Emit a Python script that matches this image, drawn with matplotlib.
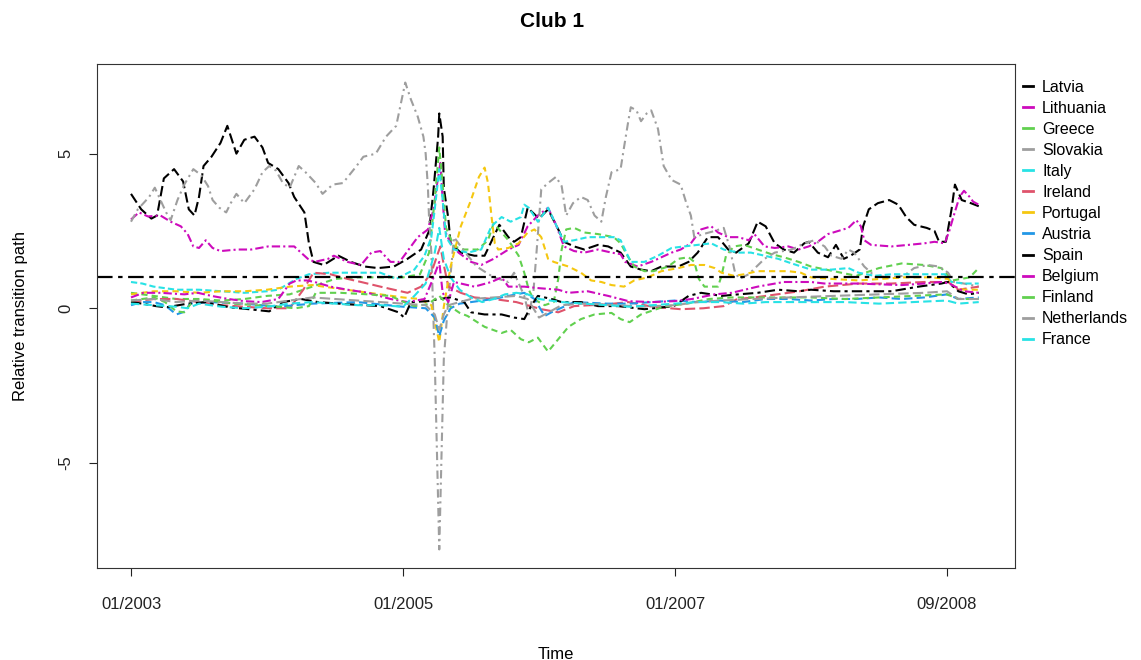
import matplotlib
matplotlib.use("Agg")
import matplotlib.pyplot as plt
from matplotlib.lines import Line2D

plt.rcParams['font.family'] = ['Liberation Sans', 'DejaVu Sans']

# x = months since 01/2003 ; y = relative transition path
tick_pos = [0, 24, 48, 72]
tick_labels = ["01/2003", "01/2005", "01/2007", "09/2008"]
y_ticks = [-5, 0, 5]
threshold = 1.0

latvia = [(0,3.7),(0.9,3.2),(1.8,2.9),(2.3,3.0),(2.9,4.2),(3.8,4.5),(4.6,4.1),(5.1,3.2),(5.6,3.0),(6.0,3.6),(6.4,4.6),(7.1,4.9),(7.9,5.35),(8.5,5.9),(9.3,5.0),(10,5.45),(10.9,5.55),(11.6,5.2),(12.1,4.7),(13,4.5),(13.9,4.05),(14.4,3.6),(15.3,3.1),(15.7,2.1),(16.1,1.5),(17,1.4),(18.3,1.7),(19.4,1.5),(20.6,1.35),(21.8,1.3),(23.2,1.35),(24.4,1.6),(25.6,1.9),(26.3,2.5),(26.7,3.85),(27.1,5.55),(27.2,6.3),(27.5,5.55),(27.6,3.9),(28,2.9),(28.2,2.1),(29.1,1.8),(30.3,1.7),(31.2,1.7),(32.5,2.7),(33.3,2.3),(33.8,2.15),(34.4,2.3),(35,3.25),(36,2.9),(36.8,3.2),(37.7,2.55),(38.2,2.15),(39.1,2.0),(40,1.9),(41.2,2.05),(42.1,2.0),(43.2,1.8),(44.1,1.35),(45,1.25),(45.9,1.2),(46.8,1.35),(48.3,1.35),(49.2,1.5),(50,1.8),(50.9,2.3),(51.8,2.3),(52.7,1.9),(53.4,1.8),(54.5,2.1),(55.3,2.8),(56,2.65),(56.8,2.1),(57.6,1.9),(58.5,1.8),(59.4,2.1),(59.8,2.15),(60.6,1.8),(61.5,1.65),(62.2,2.05),(62.9,1.6),(63.5,1.7),(64.3,1.9),(64.6,2.65),(65.1,3.2),(65.9,3.4),(66.9,3.5),(67.7,3.35),(68.4,2.95),(69.1,2.7),(70.2,2.6),(70.9,2.5),(71.3,2.15),(71.9,2.15),(72.4,3.2),(72.7,4.0),(73.3,3.5),(74.1,3.4),(74.8,3.3)]

lithuania = [(0,2.87),(0.7,3.1),(1.5,2.97),(2.6,3.0),(3.5,2.8),(4.4,2.65),(5,2.4),(5.5,2.0),(6,1.95),(6.6,2.2),(7.2,1.95),(7.9,1.85),(9.4,1.9),(10.6,1.9),(12.1,2.0),(13.2,2.0),(14.4,2.0),(15,1.8),(15.6,1.6),(16.2,1.5),(17.4,1.6),(17.9,1.7),(19.1,1.5),(20.3,1.4),(21.2,1.8),(22,1.85),(22.9,1.5),(23.7,1.5),(24.4,1.85),(25.3,2.3),(26.2,2.55),(26.7,3.2),(27.0,4.0),(27.3,4.7),(27.5,3.5),(27.7,2.5),(28.2,2.1),(28.9,1.8),(30,1.5),(30.9,1.4),(32,1.6),(33.3,1.9),(34.2,2.05),(35,2.65),(35.9,3.0),(36.8,3.25),(37.5,2.7),(38.2,2.0),(39.1,1.85),(40,1.8),(41.2,1.9),(42.4,1.8),(43.2,1.75),(43.6,1.5),(44.7,1.35),(45.9,1.5),(46.8,1.65),(47.7,1.8),(48.5,1.9),(49.4,2.1),(50.3,2.55),(51.2,2.65),(51.8,2.45),(52.7,2.3),(53.6,2.3),(54.5,2.2),(55,2.4),(55.9,2.0),(56.8,1.95),(58,2.0),(58.9,1.9),(59.8,2.0),(60.6,2.15),(61.5,2.4),(62.4,2.5),(63.3,2.6),(64,2.85),(64.4,2.65),(64.7,2.2),(65.3,2.05),(67.1,2.0),(68.6,2.05),(70,2.1),(70.9,2.15),(71.8,2.1),(72.2,2.5),(72.6,3.0),(73.1,3.6),(73.5,3.8),(74,3.6),(74.3,3.45),(74.8,3.35)]

greece = [(0,0.5),(2,0.4),(4,0.3),(6,0.3),(8,0.25),(10,0.3),(12,0.4),(14,0.45),(16,0.7),(18,0.95),(20,1.0),(22,1.0),(24,1.0),(25.5,1.1),(26.3,1.8),(26.8,3.5),(27.2,5.2),(27.5,4.0),(27.8,2.6),(28.5,2.0),(29.4,1.9),(30.6,1.9),(31.5,2.2),(32,2.75),(33.3,2.2),(34.2,1.7),(34.7,1.15),(35.1,0.6),(35.5,0.3),(36.5,0.1),(37.3,0.2),(37.7,0.95),(38,1.9),(38.4,2.55),(39.1,2.6),(40,2.45),(41.2,2.4),(42.6,2.3),(43.2,2.1),(43.8,1.7),(44.4,1.35),(45.3,1.2),(46.1,1.2),(47.4,1.35),(48.3,1.6),(49.2,1.65),(49.7,1.5),(50.1,0.95),(50.6,0.7),(51.8,0.7),(52.1,1.05),(52.5,1.7),(53.2,2.0),(54.1,2.05),(55.3,1.9),(56.5,1.75),(57.6,1.65),(58.9,1.5),(60,1.35),(62,1.2),(64,1.05),(66,1.3),(68,1.45),(70,1.4),(71.5,1.3),(72.5,0.9),(74,1.0),(74.8,1.3)]

slovakia = [(0,2.8),(0.6,3.2),(1.6,3.6),(2.1,3.9),(2.6,3.5),(3.1,3.1),(3.5,2.85),(4.1,3.5),(4.7,4.0),(5.5,4.5),(6.2,4.3),(6.8,3.95),(7.2,3.5),(7.8,3.25),(8.4,3.1),(8.8,3.4),(9.3,3.7),(10,3.4),(10.9,3.85),(11.6,4.4),(12.2,4.6),(12.8,4.45),(13.4,4.05),(14,3.9),(14.8,4.6),(15.4,4.4),(16.3,4.05),(16.9,3.7),(17.8,4.0),(18.7,4.05),(19.9,4.6),(20.5,4.9),(21.6,5.0),(22.5,5.55),(23.4,5.9),(23.8,6.6),(24.2,7.3),(24.7,6.75),(25.3,6.2),(25.8,5.55),(26.0,5.0),(26.2,3.9),(26.3,2.9),(26.5,1.8),(26.8,-1.65),(27.2,-7.8),(27.6,-1.65),(28.0,0.3),(28.5,2.3),(29.5,1.8),(30.5,1.35),(32,1.0),(33.3,0.85),(33.8,1.15),(34.7,0.4),(35.1,-0.2),(35.5,0.5),(35.8,1.9),(36.2,3.85),(36.8,4.05),(37.5,4.25),(38,3.95),(38.4,3.0),(39,3.4),(39.7,3.6),(40.3,3.5),(40.9,3.0),(41.5,2.8),(41.9,3.6),(42.4,4.4),(43.2,4.5),(43.5,5.2),(43.9,6.1),(44.1,6.5),(44.6,6.4),(45,6.05),(45.5,6.3),(45.9,6.4),(46.5,5.8),(47,4.6),(47.7,4.15),(48.5,4.0),(49,3.4),(49.4,3.0),(49.7,2.3),(50.5,2.4),(51.5,2.5),(52.3,2.6),(52.8,2.0),(53.3,1.15),(53.7,0.95),(54.5,1.1),(55.9,1.6),(56.8,1.8),(58.3,1.9),(59.4,2.1),(60.3,2.2),(61.2,2.0),(61.8,1.7),(62.7,1.6),(63.3,1.9),(63.8,1.8),(64.7,1.35),(65.6,1.05),(66.8,1.0),(68.2,1.05),(69.1,1.3),(70.3,1.4),(71.3,1.35),(72.1,1.15),(72.6,0.85),(73.5,0.8),(74.8,0.7)]

italy = [(0,0.85),(1,0.8),(2,0.7),(4,0.6),(6,0.6),(8,0.55),(10,0.5),(12,0.55),(13,0.6),(14.6,0.95),(15.7,1.1),(17.5,1.15),(19.9,1.15),(22,1.15),(23.4,0.95),(25,1.25),(25.9,1.7),(26.5,2.3),(26.8,3.2),(27.2,4.5),(27.5,3.5),(27.8,2.3),(28.5,1.9),(29.7,1.8),(30.9,1.9),(31.8,2.65),(32.7,2.95),(33.5,2.8),(34.4,2.95),(34.7,3.35),(35.1,3.25),(35.9,2.8),(36.8,3.25),(37.5,2.7),(38.2,2.15),(39.1,2.2),(40.3,2.3),(41.5,2.3),(42.6,2.3),(43.2,2.2),(44.1,1.5),(45.3,1.5),(46.5,1.7),(47.7,1.95),(48.8,2.0),(50,2.05),(51.2,2.1),(52.3,1.9),(53.6,1.8),(54.7,1.8),(55.9,1.7),(57.1,1.6),(58.3,1.45),(60,1.25),(61.8,1.25),(63.3,1.3),(64.2,1.15),(65.6,1.05),(67.1,1.1),(68.6,1.1),(70,1.1),(71.8,1.1),(72.4,0.85),(73.5,0.8),(74.8,0.8)]

ireland = [(0,0.2),(2,0.3),(4,0.3),(6,0.2),(8,0.1),(10,0.05),(12,0.0),(14,0.0),(15.2,0.6),(16.1,1.15),(17.6,1.1),(19.1,0.95),(20.3,0.85),(22,0.7),(23.2,0.6),(24.4,0.5),(25.6,0.7),(26.5,1.15),(27.1,1.8),(27.3,2.0),(27.6,1.4),(28,0.7),(29.1,0.5),(30.3,0.35),(32,0.3),(34,0.2),(36.2,-0.03),(37.7,-0.13),(39.1,0.07),(42.1,0.13),(43.9,0.2),(46,0.05),(48.5,-0.03),(50.5,0.0),(52.3,0.07),(53.5,0.3),(55,0.35),(57,0.45),(59,0.55),(61.2,0.7),(64.2,0.8),(67.1,0.8),(70,0.85),(72.1,0.85),(73,0.6),(74.8,0.7)]

portugal = [(0,0.45),(2,0.55),(4,0.55),(6,0.5),(8,0.55),(10,0.55),(12,0.6),(14,0.7),(16,0.75),(18,0.65),(20,0.55),(22,0.45),(24,0.35),(25.5,0.3),(26.5,0.1),(27.2,-1.1),(27.6,0.05),(28.2,1.35),(29.1,2.65),(30,3.5),(30.7,4.25),(31.2,4.55),(31.5,4.05),(31.8,3.0),(32.1,2.1),(32.4,1.9),(33.3,1.95),(34.2,2.1),(35,2.45),(35.6,2.55),(36.2,2.3),(36.8,1.6),(37.3,1.5),(38.6,1.35),(39.7,1.15),(40.6,0.9),(41.5,0.85),(42.4,0.75),(43.5,0.7),(44.4,0.9),(45.6,1.0),(46.8,1.2),(48.3,1.3),(49.4,1.4),(50.6,1.4),(51.5,1.3),(52.1,1.15),(53.2,1.05),(54.1,1.1),(55.3,1.2),(56.8,1.2),(58,1.2),(59.1,1.15),(60,1.0),(61.8,0.95),(64.2,0.9),(66.2,0.95),(68.2,1.0),(70.6,1.0),(72.1,0.95),(72.6,0.7),(73.5,0.6),(74.8,0.6)]

austria = [(0,0.1),(1,0.2),(2,0.2),(3,0.1),(4,-0.2),(4.8,-0.1),(5.2,0.15),(7,0.2),(10,0.15),(13,0.05),(16,0.15),(20,0.2),(24,0.05),(26,0.0),(26.8,-0.3),(27.2,-0.9),(27.6,-0.4),(28.2,0.0),(29,0.15),(30,0.2),(32,0.3),(33.3,0.4),(34.7,0.5),(35.6,0.3),(36.5,-0.25),(37.1,-0.13),(39.1,0.2),(42,0.15),(44,0.15),(46,0.2),(48,0.25),(50,0.2),(52,0.25),(54,0.2),(56,0.3),(58,0.3),(60,0.25),(62,0.3),(64,0.3),(66,0.35),(68,0.3),(70,0.35),(72,0.45),(73,0.3),(74.8,0.35)]

spain = [(0,0.2),(1,0.15),(2.2,0.07),(3.1,0.03),(5,0.15),(6.6,0.2),(8.7,0.03),(10.4,-0.03),(12.2,-0.1),(13.4,0.2),(15,0.3),(16.5,0.2),(19.1,0.13),(22,0.07),(23.6,-0.13),(24.1,-0.3),(24.7,0.2),(26.2,0.23),(27.2,0.3),(28.2,0.35),(29.4,0.2),(30,-0.13),(31.2,-0.2),(32.7,-0.2),(33.8,-0.3),(34.7,-0.35),(35.3,0.07),(35.9,0.4),(37.1,0.3),(38,0.2),(39.7,0.2),(41.2,0.07),(43,0.07),(45.3,-0.03),(47.9,0.07),(49.2,0.4),(50.3,0.5),(52.1,0.4),(53.6,0.45),(55.3,0.5),(57.1,0.6),(58.9,0.55),(60,0.6),(62,0.55),(64.5,0.55),(67.1,0.55),(69.5,0.7),(71.5,0.8),(72.1,0.85),(73,0.55),(73.9,0.45),(74.8,0.5)]

belgium = [(0,0.35),(1.1,0.5),(2.6,0.5),(4.7,0.45),(5.9,0.5),(7.1,0.4),(8.6,0.3),(10,0.23),(11.5,0.2),(13,0.3),(13.4,0.5),(14,0.8),(14.6,0.9),(15.5,0.9),(16.2,0.85),(17.6,0.7),(19.1,0.6),(20.9,0.5),(22.9,0.3),(24.4,0.2),(25.9,0.3),(26.7,1.0),(27.2,1.5),(27.5,0.5),(28,0.2),(28.5,0.85),(30.3,0.7),(31.8,0.85),(32.7,1.0),(33.3,0.7),(34.7,0.7),(36,0.65),(37.7,0.6),(38.6,0.5),(40.3,0.55),(42.1,0.4),(43.9,0.23),(46,0.2),(47.9,0.23),(49.5,0.3),(51.5,0.45),(53,0.5),(55.3,0.7),(57.6,0.85),(60,0.85),(61.2,0.8),(64,0.8),(68,0.75),(70,0.8),(71.5,0.85),(72.2,0.8),(73.5,0.55),(74.8,0.5)]

finland = [(0,0.25),(1,0.3),(2,0.35),(3,0.2),(4,-0.1),(4.7,-0.13),(5.6,0.3),(7,0.25),(9,0.15),(11,0.1),(13,0.05),(14.5,0.0),(15.7,0.07),(16.3,0.5),(18.5,0.5),(20.9,0.45),(22.9,0.4),(24.1,0.2),(25,0.07),(26.2,0.13),(27.2,0.4),(28,0.1),(29,-0.15),(29.7,-0.25),(31.2,-0.6),(32.7,-0.8),(33.5,-0.7),(34.4,-1.0),(35.1,-1.1),(35.9,-0.95),(36.8,-1.4),(37.7,-1.0),(38.6,-0.6),(39.7,-0.35),(40.9,-0.2),(42.4,-0.15),(43.2,-0.35),(44,-0.45),(45,-0.2),(47,0.05),(49,0.15),(51,0.3),(53,0.35),(55,0.35),(57,0.35),(60,0.35),(63,0.3),(66,0.35),(69,0.4),(72,0.45),(73,0.3),(74.8,0.3)]

netherlands = [(0,0.25),(2,0.3),(4,0.2),(6,0.25),(8,0.2),(10,0.15),(12,0.15),(14,0.25),(16,0.35),(18,0.3),(20,0.25),(22,0.2),(24,0.15),(26,0.1),(26.8,-0.2),(27.2,-0.7),(27.6,-0.2),(28,0.1),(30,0.3),(32,0.35),(34,0.4),(35,0.3),(36,-0.3),(37,-0.1),(38,0.1),(40,0.15),(43,0.1),(45,0.05),(48,0.1),(50,0.2),(52,0.25),(55,0.3),(58,0.35),(62,0.4),(66,0.45),(70,0.5),(72,0.55),(73,0.3),(74.8,0.3)]

france = [(0,0.15),(2,0.1),(4,0.05),(5,0.0),(6,0.15),(8,0.05),(10,0.0),(12,0.05),(14,0.15),(16,0.2),(18,0.15),(20,0.1),(22,0.1),(24,0.05),(25,0.4),(26,0.8),(26.8,1.8),(27.2,2.6),(27.6,1.6),(28.2,1.0),(29,0.6),(30,0.35),(31,0.2),(32,0.3),(33,0.45),(34,0.5),(35,0.45),(36,0.3),(38,0.2),(40,0.15),(42,0.1),(44,0.05),(46,0.1),(48,0.15),(50,0.2),(52,0.2),(54,0.15),(56,0.2),(58,0.2),(60,0.2),(63,0.2),(66,0.15),(69,0.2),(72,0.25),(73,0.15),(74.8,0.2)]

countries = ["Latvia", "Lithuania", "Greece", "Slovakia", "Italy", "Ireland", "Portugal",
             "Austria", "Spain", "Belgium", "Finland", "Netherlands", "France"]
series = [latvia, lithuania, greece, slovakia, italy, ireland, portugal,
          austria, spain, belgium, finland, netherlands, france]

colors = ["black", "#CD0BBC", "#61D04F", "#9E9E9E", "#28E2E5", "#DF536B", "#F5C710",
          "#2297E6", "black", "#CD0BBC", "#61D04F", "#9E9E9E", "#28E2E5"]
dashes = [(5, 2), (4, 1.5, 1, 1.5), (3, 2), (4, 2, 1, 2), (3, 1.5), (5, 2), (3, 2),
          (4, 2), (5, 2, 1.5, 2), (4, 1.5, 1, 1.5), (3, 2), (5, 2), (4, 2)]

fig = plt.figure(figsize=(11.41, 6.60), dpi=100)
ax = fig.add_axes([97/1141, 1-568/660, (1015-97)/1141, (568-64)/660])

for name, data, c, d in zip(countries, series, colors, dashes):
    t = [p[0] for p in data]
    v = [p[1] for p in data]
    ax.plot(t, v, color=c, lw=1.5, dashes=d, label=name)

ax.axhline(threshold, color="black", lw=1.6, dashes=(7, 2.5, 2, 2.5))

ax.set_xlim(-3, 78)
ax.set_ylim(-8.4, 7.9)
ax.set_xticks(tick_pos)
ax.set_xticklabels(tick_labels)
ax.set_yticks(y_ticks)
ax.set_yticklabels([str(v) for v in y_ticks], rotation=90, va="center")
ax.tick_params(axis="both", direction="out", length=6, width=0.8, labelsize=12, colors="#222222")
ax.tick_params(axis="x", pad=15)
ax.tick_params(axis="y", pad=11)
for s in ax.spines.values():
    s.set_linewidth(0.8)
    s.set_color("#333333")

ax.set_xlabel("Time", fontsize=12, labelpad=25)
ax.set_ylabel("Relative transition path", fontsize=12, labelpad=22)
fig.text(0.484, 0.968, "Club 1", ha="center", va="center", fontsize=15, fontweight="bold")

handles = [Line2D([0], [0], color=c, lw=2) for c in colors]
ax.legend(handles, countries, loc="upper left", bbox_to_anchor=(1.0, 0.985),
          frameon=False, fontsize=11.5, handlelength=0.6, handletextpad=0.6,
          labelspacing=0.38, borderaxespad=0.0, borderpad=0.5)

fig.savefig("out.png", dpi=100)
